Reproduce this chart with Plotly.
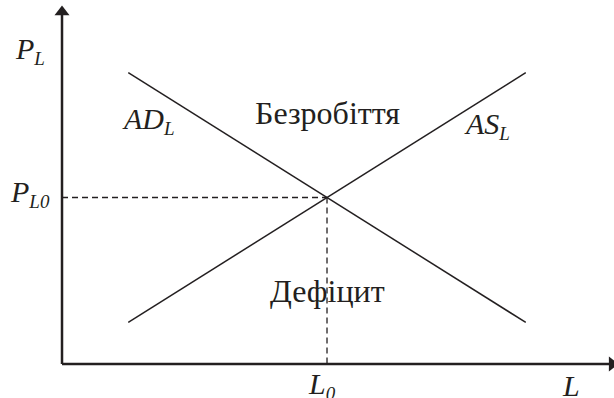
import plotly.graph_objects as go

# labour market: demand / supply in abstract units
L_points = [1.25, 8.75]
AD_values = [8.75, 1.25]
AS_values = [1.25, 8.75]
L0 = 5.0
PL0 = 5.0
L_max = 10.38
P_max = 10.57

SUB = '<sub><span style="font-size:19px">%s</span></sub>'
curve_labels = ["<i>AD" + SUB % "L" + "</i>", "<i>AS" + SUB % "L" + "</i>"]
region_labels = ["Безробіття", "Дефіцит"]
axis_labels = ["<i>P" + SUB % "L" + "</i>", "<i>P" + SUB % "L0" + "</i>",
               "<i>L" + SUB % "0" + "</i>", "<i>L</i>"]

FONT = "Liberation Serif"
BLACK = "#231f20"

fig = go.Figure()

# axes
fig.add_trace(go.Scatter(x=[0, 0], y=[0, P_max], mode="lines",
                         line=dict(color=BLACK, width=2.5), hoverinfo="skip"))
fig.add_trace(go.Scatter(x=[0, L_max], y=[0, 0], mode="lines",
                         line=dict(color=BLACK, width=2.5), hoverinfo="skip"))
fig.add_trace(go.Scatter(x=[0], y=[P_max], mode="markers",
                         marker=dict(symbol="triangle-up", size=13, color=BLACK),
                         hoverinfo="skip"))
fig.add_trace(go.Scatter(x=[L_max], y=[0], mode="markers",
                         marker=dict(symbol="triangle-right", size=13, color=BLACK),
                         hoverinfo="skip"))

# equilibrium guides
fig.add_trace(go.Scatter(x=[0, L0], y=[PL0, PL0], mode="lines",
                         line=dict(color=BLACK, width=1.3, dash="6px,4px"), hoverinfo="skip"))
fig.add_trace(go.Scatter(x=[L0, L0], y=[PL0, 0], mode="lines",
                         line=dict(color=BLACK, width=1.3, dash="6px,4px"), hoverinfo="skip"))

# AD and AS
fig.add_trace(go.Scatter(x=L_points, y=AD_values, mode="lines",
                         line=dict(color=BLACK, width=1.5), hoverinfo="skip"))
fig.add_trace(go.Scatter(x=L_points, y=AS_values, mode="lines",
                         line=dict(color=BLACK, width=1.5), hoverinfo="skip"))

def label(x, y, text, size=30, xanchor="center"):
    fig.add_annotation(x=x, y=y, text=text, showarrow=False, xanchor=xanchor,
                       yanchor="middle", font=dict(family=FONT, size=size, color=BLACK))

label(-0.6, 9.41, axis_labels[0])
label(-0.19, PL0 + 0.12, axis_labels[1], xanchor="right")
label(L0 - 0.1, -0.65, axis_labels[2])
label(9.61, -0.65, axis_labels[3])
label(1.63, 7.31, curve_labels[0])
label(8.01, 7.16, curve_labels[1])
label(L0, 7.54, region_labels[0], size=32)
label(L0, 2.19, region_labels[1], size=32)

fig.update_layout(
    width=614, height=398,
    margin=dict(l=0, r=0, t=0, b=0),
    paper_bgcolor="white", plot_bgcolor="white",
    showlegend=False,
    xaxis=dict(range=[-1.17, 10.415], visible=False, fixedrange=True),
    yaxis=dict(range=[-1.02, 10.93], visible=False, fixedrange=True),
)

fig.write_html("out.html", config={"displayModeBar": False},
               post_script="document.body.style.margin='0';document.body.style.overflow='hidden';")
